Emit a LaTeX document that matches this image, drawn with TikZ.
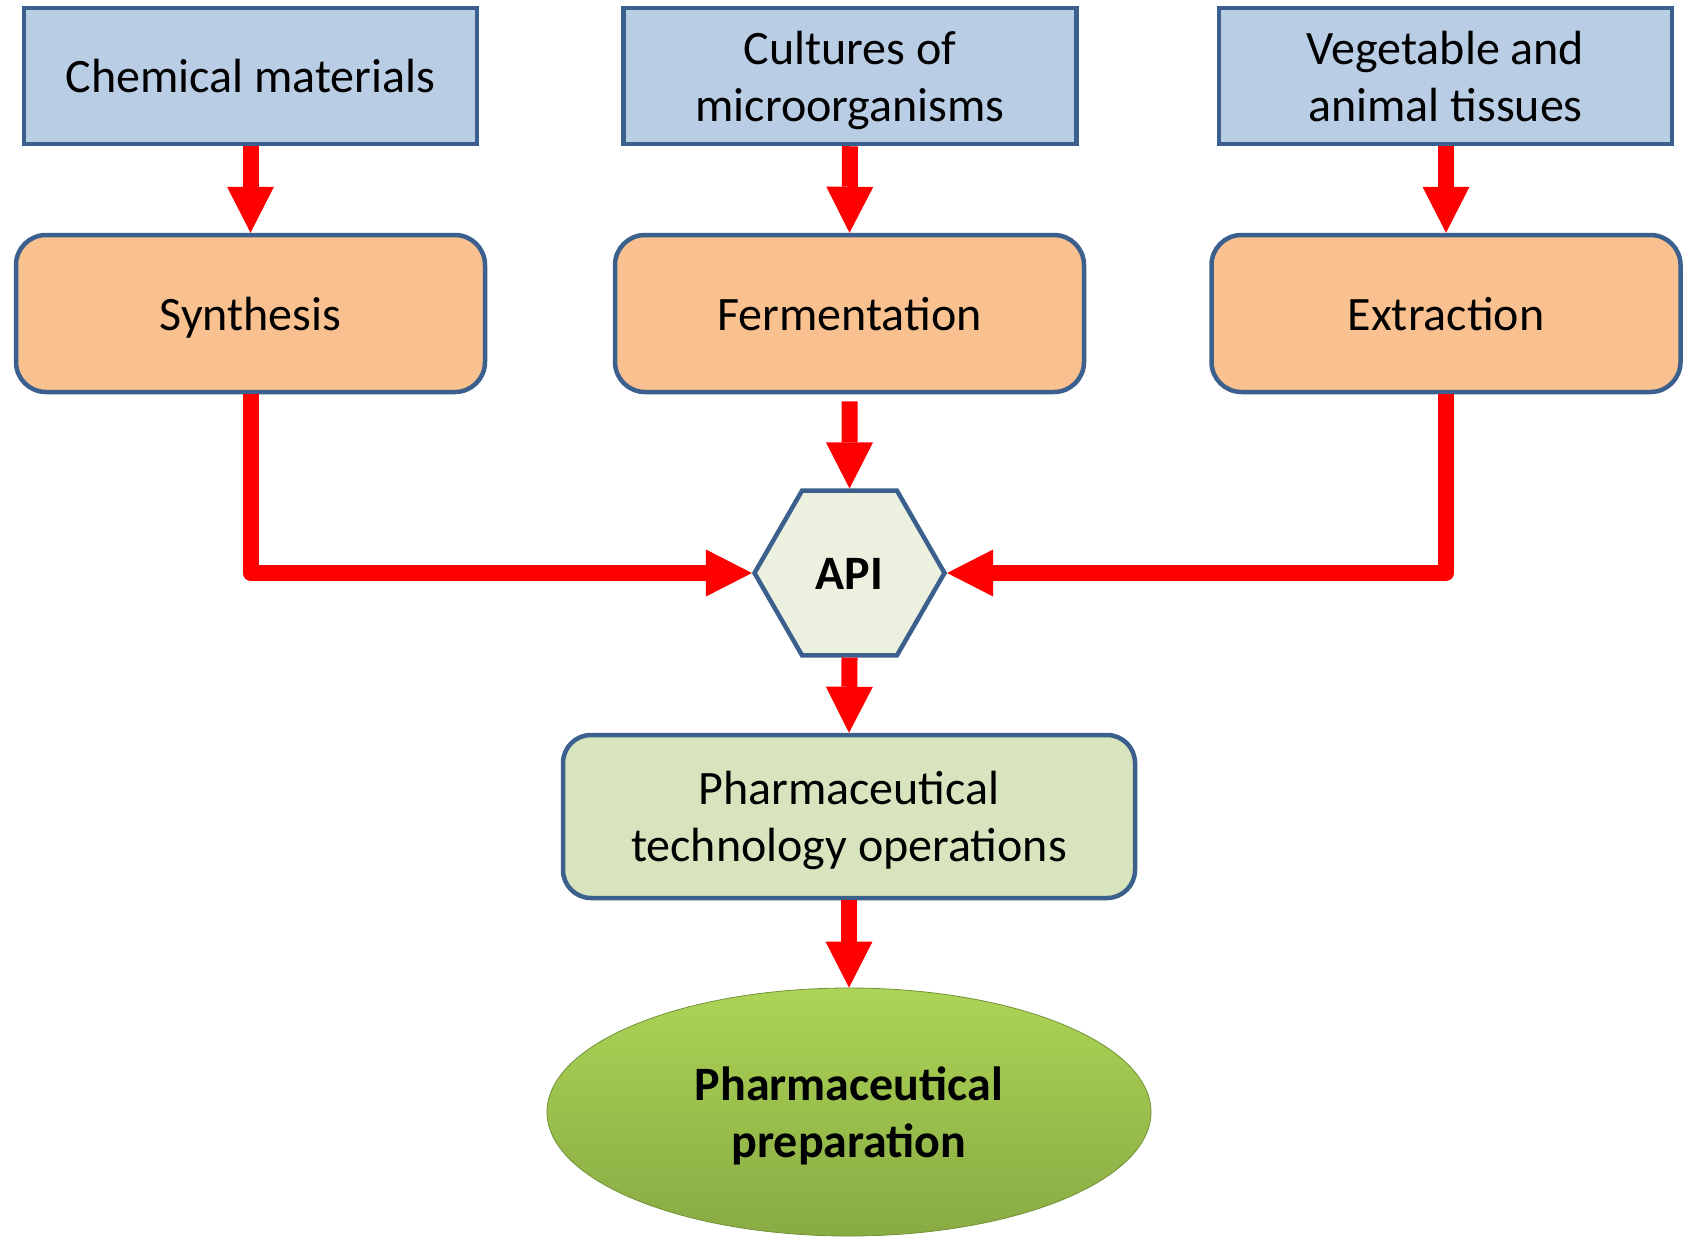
\documentclass[tikz,border=0pt]{standalone}
\usepackage{fontspec}
\setmainfont{Carlito}
\usetikzlibrary{arrows.meta,shapes.geometric}

\definecolor{edgeblue}{RGB}{60,96,141}
\definecolor{srcfill}{RGB}{185,205,229}
\definecolor{procfill}{RGB}{249,192,144}
\definecolor{apifill}{RGB}{235,241,222}
\definecolor{opsfill}{RGB}{215,228,189}
\definecolor{prepTop}{RGB}{172,212,86}
\definecolor{prepBot}{RGB}{136,171,67}
\definecolor{flowred}{RGB}{255,0,0}

\tikzset{
  base/.style={draw=edgeblue, line width=4.5pt, inner sep=0pt, align=center,
    font=\fontsize{48pt}{57pt}\selectfont},
  oneline/.style={text height=33pt, text depth=0pt},
  twolines/.style={text height=90pt, text depth=0pt},
  source/.style={base, rectangle, fill=srcfill, minimum width=453pt, minimum height=136pt},
  process/.style={base, oneline, rectangle, rounded corners=30pt, fill=procfill,
    minimum width=469pt, minimum height=157pt},
  apinode/.style={base, oneline, regular polygon, regular polygon sides=6, fill=apifill,
    minimum size=190pt, font=\fontsize{48pt}{57pt}\selectfont\bfseries},
  opsbox/.style={base, twolines, rectangle, rounded corners=28pt, fill=opsfill,
    minimum width=572pt, minimum height=163pt},
  product/.style={twolines, ellipse, inner sep=0pt, minimum width=604pt, minimum height=248pt,
    top color=prepTop, bottom color=prepBot, draw=prepBot!85!black, line width=0.8pt,
    align=center, font=\fontsize{48pt}{57pt}\selectfont\bfseries},
  flow/.style={draw=flowred, line width=16pt, line join=round,
    -{Triangle[length=46pt,width=47pt,line width=0pt]}},
}

\begin{document}
\begin{tikzpicture}[x=1pt,y=1pt]
  \useasboundingbox (0,0) rectangle (1693,-1237);

  % raw materials
  \node[source, oneline] (chem) at (250.5,-76) {Chemical materials};
  \node[source, twolines] (cult) at (850,-76) {Cultures of\\microorganisms};
  \node[source, twolines] (veg)  at (1445.5,-76) {Vegetable and\\animal tissues};

  % production processes
  \node[process] (syn) at (250.5,-313.5) {Synthesis};
  \node[process] (fer) at (849.5,-313.5) {Fermentation};
  \node[process] (ext) at (1446,-313.5) {Extraction};

  % active ingredient
  \node[apinode] (api) at (849.5,-573) {API};

  % formulation and final product
  \node[opsbox] (ops) at (849,-816.5) {Pharmaceutical\\technology operations};
  \node[product] (prep) at (849,-1112) {Pharmaceutical\\preparation};

  % flows
  \draw[flow] (chem.south) -- (syn.north);
  \draw[flow] (cult.south) -- (fer.north);
  \draw[flow] (veg.south -| ext.north) -- (ext.north);
  \draw[flow, shorten <=7pt] (fer.south) -- (api.north);
  \draw[flow] (syn.south) -- (syn.south |- api.west) -- (api.west);
  \draw[flow] (ext.south) -- (ext.south |- api.east) -- (api.east);
  \draw[flow] (api.south) -- (ops.north);
  \draw[flow] (ops.south) -- (prep.north);
\end{tikzpicture}
\end{document}
